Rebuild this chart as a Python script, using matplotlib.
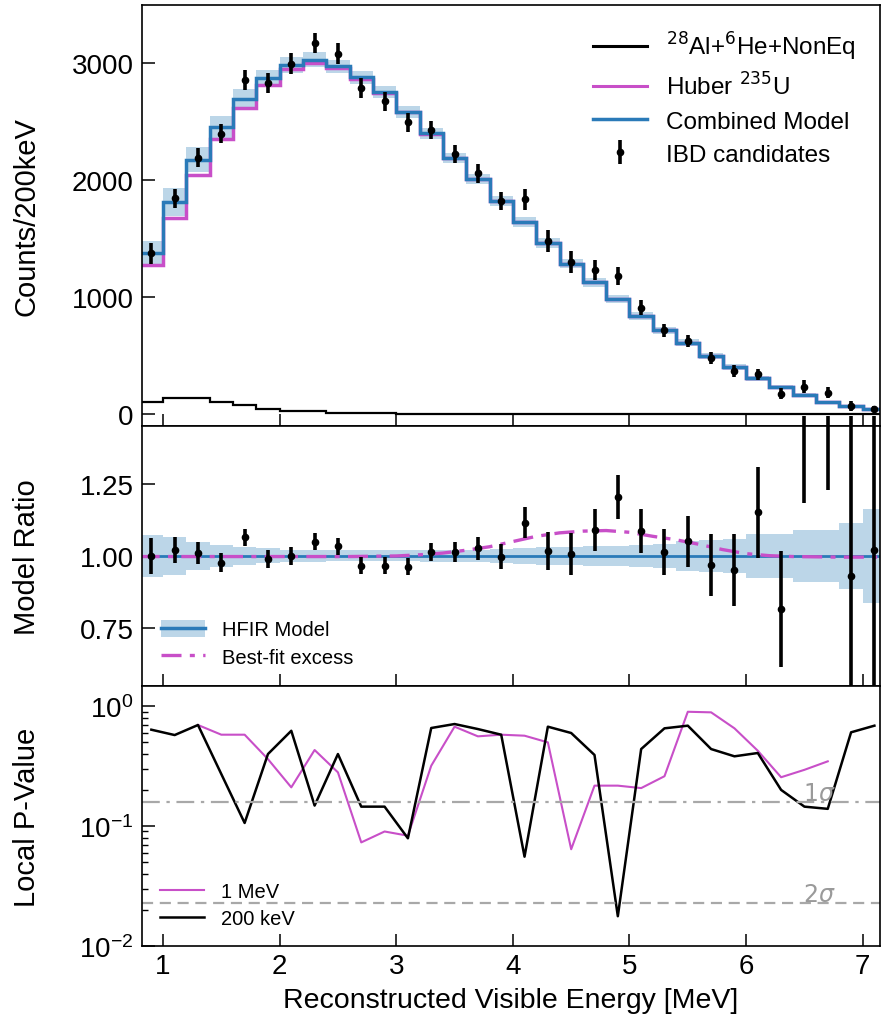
import numpy as np
import matplotlib
matplotlib.use("Agg")
import matplotlib.pyplot as plt
from matplotlib.lines import Line2D
from matplotlib.patches import Patch

plt.rcParams["font.family"] = ["Liberation Sans", "DejaVu Sans"]

# 200 keV bins, 0.8 - 7.2 MeV
bin_edges = np.round(np.arange(0.8, 7.21, 0.2), 1)
bin_centers = 0.5 * (bin_edges[:-1] + bin_edges[1:])

# --- top panel: spectrum ---
ibd_counts = [1376, 1846, 2194, 2399, 2860, 2835, 2997, 3177, 3083, 2792, 2675, 2496,
              2430, 2228, 2060, 1823, 1838, 1481, 1305, 1233, 1182, 912, 718, 627,
              479, 370, 342, 177, 237, 185, 71, 49]
ibd_err = [87, 83, 81, 81, 84, 86, 90, 85, 89, 86, 83, 78,
           74, 77, 79, 80, 87, 95, 94, 83, 76, 64, 57, 54,
           53, 50, 49, 47, 55, 50, 40, 26]
combined_model = [1376, 1815, 2177, 2456, 2698, 2872, 2986, 3034, 2977, 2883, 2758, 2587,
                  2402, 2191, 2014, 1823, 1644, 1462, 1288, 1131, 983, 840, 718, 613,
                  498, 404, 308, 233, 165, 108, 71, 43]
huber_u235 = [1276, 1675, 2046, 2350, 2621, 2820, 2957, 3006, 2963, 2869, 2751, 2582,
              2399, 2189, 2013, 1822, 1643, 1461, 1287, 1130, 982, 839, 717, 612,
              497, 403, 307, 232, 164, 107, 70, 42]
bkg_al_he = [105, 137, 137, 105, 77, 49, 28, 28, 14, 14, 7, 5,
             3, 2, 1, 1, 1, 1, 1, 1, 1, 1, 1, 1,
             1, 1, 1, 1, 1, 1, 1, 1]
model_rel_unc = [0.074, 0.066, 0.050, 0.037, 0.031, 0.026, 0.022, 0.020, 0.019, 0.019, 0.019, 0.019,
                 0.020, 0.021, 0.022, 0.024, 0.027, 0.030, 0.032, 0.034, 0.036, 0.038, 0.040, 0.052,
                 0.055, 0.058, 0.075, 0.075, 0.091, 0.091, 0.114, 0.162]

# --- middle panel: ratio ---
ratio = [1.00, 1.02, 1.01, 0.976, 1.064, 0.99, 1.00, 1.05, 1.033, 0.967, 0.967, 0.963,
         1.015, 1.013, 1.026, 0.998, 1.115, 1.017, 1.008, 1.091, 1.205, 1.085, 1.014, 1.051,
         0.970, 0.952, 1.151, 0.817, 1.60, 1.72, 0.93, 1.02]
ratio_err = [0.063, 0.046, 0.037, 0.033, 0.031, 0.030, 0.030, 0.028, 0.030, 0.030, 0.030, 0.030,
             0.031, 0.035, 0.039, 0.044, 0.053, 0.065, 0.073, 0.073, 0.077, 0.076, 0.079, 0.088,
             0.107, 0.124, 0.158, 0.200, 0.415, 0.490, 0.700, 0.700]
excess_x = [0.8, 1.0, 1.2, 1.4, 1.6, 1.8, 2.0, 2.2, 2.4, 2.6, 2.8, 3.0, 3.2, 3.4, 3.6, 3.8,
            4.0, 4.2, 4.4, 4.6, 4.8, 5.0, 5.2, 5.4, 5.6, 5.8, 6.0, 6.2, 6.4, 6.6, 6.8, 7.0, 7.2]
excess_ratio = [0.998, 0.998, 0.998, 0.998, 0.998, 0.998, 0.998, 0.998, 0.998, 0.998, 0.999,
                1.000, 1.004, 1.010, 1.020, 1.032, 1.050, 1.068, 1.080, 1.086, 1.088, 1.082,
                1.068, 1.056, 1.040, 1.022, 1.008, 1.001, 0.998, 0.997, 0.996, 0.996, 0.996]

# --- bottom panel: local p-values ---
pval_200kev = [0.635, 0.573, 0.695, 0.271, 0.106, 0.398, 0.622, 0.148, 0.398, 0.145, 0.145, 0.079,
               0.656, 0.708, 0.643, 0.577, 0.0555, 0.673, 0.596, 0.391, 0.0177, 0.438, 0.652, 0.686,
               0.438, 0.381, 0.406, 0.200, 0.145, 0.139, 0.604, 0.686]
pval_1mev_x = [1.3, 1.5, 1.7, 1.9, 2.1, 2.3, 2.5, 2.7, 2.9, 3.1, 3.3, 3.5, 3.7, 3.9,
               4.1, 4.3, 4.5, 4.7, 4.9, 5.1, 5.3, 5.5, 5.7, 5.9, 6.1, 6.3, 6.5, 6.7]
pval_1mev = [0.695, 0.577, 0.577, 0.361, 0.210, 0.430, 0.280, 0.073, 0.090, 0.083, 0.318, 0.673,
             0.559, 0.577, 0.566, 0.498, 0.064, 0.217, 0.217, 0.207, 0.260, 0.896, 0.886, 0.652,
             0.424, 0.255, 0.294, 0.346]
sigma_levels = [0.1587, 0.0228]
sigma_labels = [r"$1\sigma$", r"$2\sigma$"]

BLUE = "#2a7ab8"
BAND = "#bcd6e8"
MAGENTA = "#c84fc8"
GREY = "#a8a8a8"

fig = plt.figure(figsize=(8.82, 10.2), dpi=100)
left, right = 0.161, 0.998
ax1 = fig.add_axes([left, 0.5814, right - left, 0.9941 - 0.5814])
ax2 = fig.add_axes([left, 0.3265, right - left, 0.5814 - 0.3265], sharex=ax1)
ax3 = fig.add_axes([left, 0.0716, right - left, 0.3265 - 0.0716], sharex=ax1)

model = np.array(combined_model, dtype=float)
rel = np.array(model_rel_unc)

# top panel
ax1.stairs(model * (1 + rel), bin_edges, baseline=model * (1 - rel), fill=True,
           color=BAND, lw=0)
ax1.stairs(bkg_al_he, bin_edges, baseline=None, color="black", lw=1.6)
ax1.stairs(huber_u235, bin_edges, baseline=None, color=MAGENTA, lw=2.5)
ax1.stairs(combined_model, bin_edges, baseline=None, color=BLUE, lw=2.5)
ax1.errorbar(bin_centers, ibd_counts, yerr=ibd_err, fmt="o", color="black",
             ms=4.5, elinewidth=2.6, capsize=0)
ax1.set_ylim(-100, 3500)
ax1.set_yticks([0, 1000, 2000, 3000])
ax1.set_ylabel("Counts/200keV", fontsize=21)

h_top = [Line2D([], [], color="black", lw=2.2),
         Line2D([], [], color=MAGENTA, lw=2.2),
         Line2D([], [], color=BLUE, lw=2.5),
         ax1.errorbar([], [], yerr=[], fmt="o", color="black", ms=4.5, elinewidth=2.6)]
l_top = [r"$^{28}$Al+$^{6}$He+NonEq", r"Huber $^{235}$U", "Combined Model", "IBD candidates"]
ax1.legend(h_top, l_top, loc="upper right", frameon=False, fontsize=17.5,
           handlelength=2.2, labelspacing=0.45, borderaxespad=0.6)

# middle panel
ax2.stairs(1 + rel, bin_edges, baseline=1 - rel, fill=True, color=BAND, lw=0)
ax2.axhline(1.0, color=BLUE, lw=2.0)
ax2.plot(excess_x, excess_ratio, color=MAGENTA, lw=2.4, ls=(0, (6, 2.5, 1.5, 2.5)))
r = np.array(ratio)
re = np.array(ratio_err)
ax2.vlines(bin_centers, np.clip(r - re, 0.55, 1.485), np.clip(r + re, 0.55, 1.485),
           color="black", lw=2.6, clip_on=False)
ax2.plot(bin_centers, ratio, "o", color="black", ms=4.5)
ax2.set_ylim(0.55, 1.45)
ax2.set_yticks([0.75, 1.00, 1.25])
ax2.set_yticklabels(["0.75", "1.00", "1.25"])
ax2.set_ylabel("Model Ratio", fontsize=21)
h_mid = [(Patch(color=BAND, lw=0), Line2D([], [], color=BLUE, lw=2.5)),
         Line2D([], [], color=MAGENTA, lw=2.4, ls=(0, (6, 2.5, 1.5, 2.5)))]
ax2.legend(h_mid, ["HFIR Model", "Best-fit excess"], loc="lower left", frameon=False,
           fontsize=14.5, handlelength=2.2, handleheight=0.9, labelspacing=0.4,
           borderaxespad=0.55)

# bottom panel
ax3.plot(pval_1mev_x, pval_1mev, color=MAGENTA, lw=1.5, label="1 MeV")
ax3.plot(bin_centers, pval_200kev, color="black", lw=1.8, label="200 keV")
ax3.axhline(sigma_levels[0], color=GREY, lw=1.6, ls=(0, (8, 3, 1.5, 3)))
ax3.axhline(sigma_levels[1], color=GREY, lw=1.6, ls=(0, (5, 3)))
for lvl, lab in zip(sigma_levels, sigma_labels):
    ax3.text(6.63, lvl * 0.95, lab, color="#9a9a9a", fontsize=17, ha="center", va="bottom")
ax3.set_yscale("log")
ax3.set_ylim(0.01, 1.47)
ax3.set_ylabel("Local P-Value", fontsize=21)
ax3.legend(loc="lower left", frameon=False, fontsize=14.5, handlelength=2.2,
           labelspacing=0.4, borderaxespad=0.5)
ax3.set_xlabel("Reconstructed Visible Energy [MeV]", fontsize=20.5, labelpad=6)

ax3.set_xlim(0.82, 7.15)
ax3.set_xticks([1, 2, 3, 4, 5, 6, 7])

for ax in (ax1, ax2, ax3):
    ax.tick_params(which="major", direction="in", length=9, width=1.1, labelsize=20, pad=6)
    ax.tick_params(which="minor", direction="in", length=4.5, width=1.0)
    ax.tick_params(axis="x", pad=5)
    for s in ax.spines.values():
        s.set_linewidth(1.2)
    ax.yaxis.set_label_coords(-0.137, 0.5)
ax1.tick_params(labelbottom=False)
ax2.tick_params(labelbottom=False)

fig.savefig("out.png", dpi=100)
